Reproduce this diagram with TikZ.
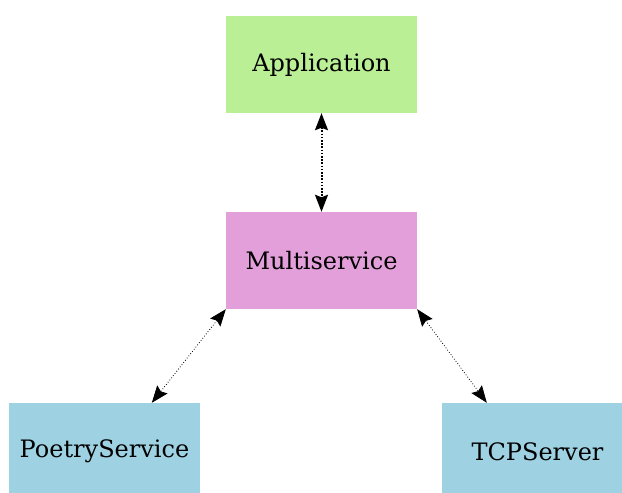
\documentclass[tikz,border=0pt]{standalone}
\usepackage{fontspec}
\setmainfont{DejaVu Serif}
\usetikzlibrary{arrows.meta}
\definecolor{appgreen}{RGB}{187,239,150}
\definecolor{mspink}{RGB}{227,159,218}
\definecolor{svcblue}{RGB}{158,210,226}
\tikzset{
  box/.style={rectangle, draw=none, minimum width=191pt, minimum height=97pt, inner sep=0pt, font=\fontsize{24}{28}\selectfont, text=black},
  link/.style={dotted, {Stealth[length=17pt,width=13pt,inset=2.5pt]}-{Stealth[length=17pt,width=13pt,inset=2.5pt]}},
}
\begin{document}
\begin{tikzpicture}[x=1pt,y=1pt]
\useasboundingbox (0,0) rectangle (622,493);
\node[box, fill=appgreen] (app) at (321.5,428.5) {Application};
\node[box, fill=mspink] (ms) at (321.5,232.5) {Multiservice};
\node[box, fill=svcblue] (ps) at (104.5,41.5) {PoetryService};
\node[box, fill=svcblue] (tcp) at (537.5,41.5) {TCPServer};
\coordinate (psin) at ([xshift=143pt]ps.north west);
\coordinate (tcpin) at ([xshift=45pt]tcp.north west);
\draw[link, line width=2pt, dash pattern=on 1.6pt off 1.6pt] (app.south) -- (ms.north);
\draw[link, line width=0.8pt] (ms.south west) -- (psin);
\draw[link, line width=0.8pt] (ms.south east) -- (tcpin);
\end{tikzpicture}
\end{document}
